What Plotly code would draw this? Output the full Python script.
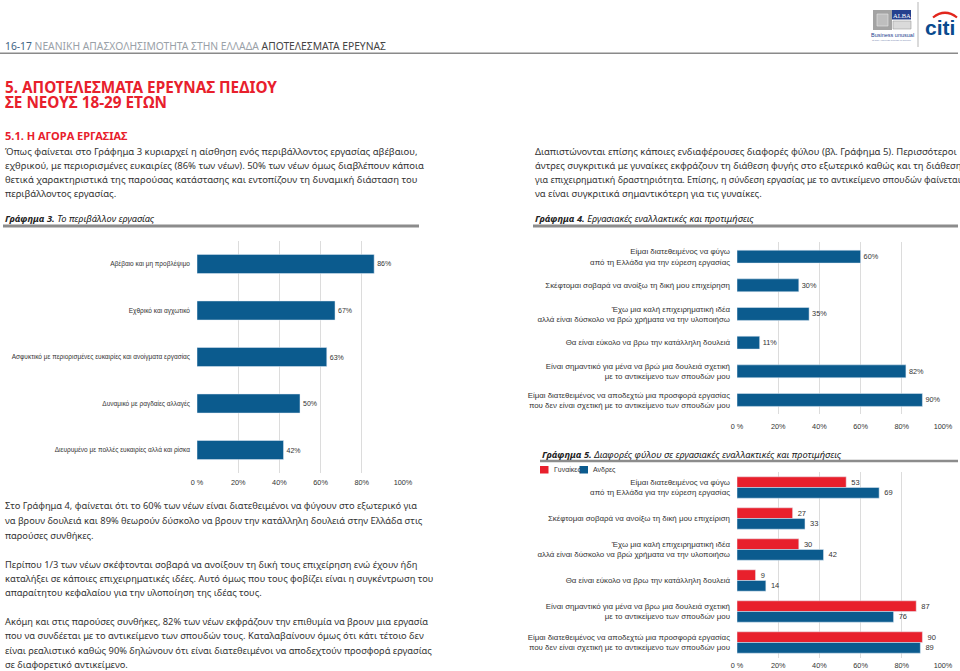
import plotly.graph_objects as go

W, H = 960, 671

# ---------------- data ----------------
g3_labels = [
    "Αβέβαιο και μη προβλέψιμο",
    "Εχθρικό και αγχωτικό",
    "Ασφυκτικό με περιορισμένες ευκαιρίες και ανοίγματα εργασίας",
    "Δυναμικό με ραγδαίες αλλαγές",
    "Διευρυμένο με πολλές ευκαιρίες αλλά και ρίσκα",
]
g3_values = [86, 67, 63, 50, 42]

g4_labels = [
    "Είμαι διατεθειμένος να φύγω<br>από τη Ελλάδα για την εύρεση εργασίας",
    "Σκέφτομαι σοβαρά να ανοίξω τη δική μου επιχείρηση",
    "Έχω μια καλή επιχειρηματική ιδέα<br>αλλά είναι δύσκολο να βρώ χρήματα να την υλοποιήσω",
    "Θα είναι εύκολο να βρω την κατάλληλη δουλειά",
    "Είναι σημαντικό για μένα να βρώ μια δουλειά σχετική<br>με το αντικείμενο των σπουδών μου",
    "Είμαι διατεθειμένος να αποδεχτώ μια προσφορά εργασίας<br>που δεν είναι σχετική με το αντικείμενο των σπουδών μου",
]
g4_values = [60, 30, 35, 11, 82, 90]

g5_labels = [
    "Είμαι διατεθειμένος να φύγω<br>από τη Ελλάδα για την εύρεση εργασίας",
    "Σκέφτομαι σοβαρά να ανοίξω τη δική μου επιχείριση",
    "Έχω μια καλή επιχειρηματική ιδέα<br>αλλά είναι δύσκολο να βρώ χρήματα να την υλοποιήσω",
    "Θα είναι εύκολο να βρω την κατάλληλη δουλειά",
    "Είναι σημαντικό για μένα να βρω μια δουλειά σχετική<br>με το αντικείμενο των σπουδών μου",
    "Είμαι διατεθειμένος να αποδεχτώ μια προσφορά εργασίας<br>που δεν είναι σχετική με το αντικείμενο των σπουδών μου",
]
g5_women = [53, 27, 30, 9, 87, 90]
g5_men = [69, 33, 42, 14, 76, 89]
g5_series = ["Γυναίκες", "Ανδρες"]

tick_vals = [0, 20, 40, 60, 80, 100]
tick_text = ["0 %", "20%", "40%", "60%", "80%", "100%"]

# ---------------- styles ----------------
BLUE = "#0B5B8E"
RED = "#E8202C"
GRID = "#DCDCDC"
NARROW = "Liberation Sans, Arial, sans-serif"
BODY = "Noto Sans, Open Sans, sans-serif"
TXT = "#333333"


def fx(px):
    return px / W


def fy(py):
    return 1 - py / H


fig = go.Figure()

fig.add_trace(go.Bar(
    x=g3_values, y=g3_labels, orientation="h", marker_color=BLUE,
    width=0.41, text=[f"{v}%" for v in g3_values], textposition="outside",
    textfont=dict(family=NARROW, size=7, color=TXT), cliponaxis=False,
    xaxis="x", yaxis="y", showlegend=False,
))
fig.add_trace(go.Bar(
    x=g4_values, y=g4_labels, orientation="h", marker_color=BLUE,
    width=0.45, text=[f"{v}%" for v in g4_values], textposition="outside",
    textfont=dict(family=NARROW, size=7.3, color=TXT), cliponaxis=False,
    xaxis="x2", yaxis="y2", showlegend=False,
))
fig.add_trace(go.Bar(
    x=g5_women, y=g5_labels, orientation="h", marker_color=RED, name=g5_series[0],
    text=[f" {v}" for v in g5_women], textposition="outside",
    textfont=dict(family=NARROW, size=7.5, color=TXT), cliponaxis=False,
    xaxis="x3", yaxis="y3", offsetgroup="w", showlegend=False,
))
fig.add_trace(go.Bar(
    x=g5_men, y=g5_labels, orientation="h", marker_color=BLUE, name=g5_series[1],
    text=[f" {v}" for v in g5_men], textposition="outside",
    textfont=dict(family=NARROW, size=7.5, color=TXT), cliponaxis=False,
    xaxis="x3", yaxis="y3", offsetgroup="m", showlegend=False,
))


def xax(dom, anchor, standoff):
    return dict(domain=dom, anchor=anchor, range=[0, 100], tickvals=tick_vals,
                ticktext=tick_text, showgrid=True, gridcolor=GRID, gridwidth=1,
                zeroline=False, showline=False, ticks="", ticklabelstandoff=standoff,
                tickfont=dict(family=NARROW, size=7.3, color=TXT), fixedrange=True,
                automargin=False)


def yax(dom, anchor, size):
    return dict(domain=dom, anchor=anchor, autorange="reversed", showgrid=False,
                zeroline=False, showline=False, ticks="",
                tickfont=dict(family=NARROW, size=size, color=TXT),
                ticklabelstandoff=6, fixedrange=True, automargin=False)


fig.update_layout(
    width=W, height=H, margin=dict(l=0, r=0, t=0, b=0, autoexpand=False),
    paper_bgcolor="white", plot_bgcolor="white",
    barmode="group", bargap=0.31, bargroupgap=0,
    xaxis=xax([fx(197), fx(403)], "y", 3),
    yaxis=yax([fy(473.3), fy(240.7)], "x", 6.5),
    xaxis2=xax([fx(737), fx(943)], "y2", 6),
    yaxis2=yax([fy(414.3), fy(242.3)], "x2", 7.9),
    xaxis3=xax([fx(737), fx(943)], "y3", 2),
    yaxis3=yax([fy(658), fy(472)], "x3", 7.9),
    showlegend=False,
)

ann = []
shapes = []


def text(px, py, s, size=10, color=TXT, family=BODY, anchor="left"):
    ann.append(dict(x=fx(px), y=fy(py), xref="paper", yref="paper", text=s,
                    showarrow=False, xanchor=anchor, yanchor="middle",
                    font=dict(family=family, size=size, color=color)))


def hline(x0, x1, py, color, width):
    shapes.append(dict(type="line", xref="paper", yref="paper", x0=fx(x0), x1=fx(x1),
                       y0=fy(py), y1=fy(py), line=dict(color=color, width=width)))


def rect(x0, y0, x1, y1, fill, line=None):
    shapes.append(dict(type="rect", xref="paper", yref="paper", x0=fx(x0), x1=fx(x1),
                       y0=fy(y1), y1=fy(y0), fillcolor=fill,
                       line=dict(width=0.6 if line else 0, color=line or fill)))


# header
text(3, 45.7, "<span style='color:#3E6384'>16-17</span> "
     "<span style='color:#9AA1A8'>ΝΕΑΝΙΚΗ ΑΠΑΣΧΟΛΗΣΙΜΟΤΗΤΑ ΣΤΗΝ ΕΛΛΑΔΑ</span> "
     "<span style='color:#444444'>ΑΠΟΤΕΛΕΣΜΑΤΑ ΕΡΕΥΝΑΣ</span>", size=10.3)
hline(0, 958, 53.3, "#8A8A8A", 1.5)

# titles
text(3, 86.8, "<b>5. ΑΠΟΤΕΛΕΣΜΑΤΑ ΕΡΕΥΝΑΣ ΠΕΔΙΟΥ</b>", size=15.3, color=RED)
text(3, 101.8, "<b>ΣΕ ΝΕΟΥΣ 18-29 ΕΤΩΝ</b>", size=15.3, color=RED)
text(3, 135, "<b>5.1. Η ΑΓΟΡΑ ΕΡΓΑΣΙΑΣ</b>", size=11, color=RED)

left_par = [
    "Όπως φαίνεται στο Γράφημα 3 κυριαρχεί η αίσθηση ενός περιβάλλοντος εργασίας αβέβαιου,",
    "εχθρικού, με περιορισμένες ευκαιρίες (86% των νέων). 50% των νέων όμως διαβλέπουν κάποια",
    "θετικά χαρακτηριστικά της παρούσας κατάστασης και εντοπίζουν τη δυναμική διάσταση του",
    "περιβάλλοντος εργασίας.",
]
right_par = [
    "Διαπιστώνονται επίσης κάποιες ενδιαφέρουσες διαφορές φύλου (βλ. Γράφημα 5). Περισσότεροι",
    "άντρες συγκριτικά με γυναίκες εκφράζουν τη διάθεση φυγής στο εξωτερικό καθώς και τη διάθεση",
    "για επιχειρηματική δραστηριότητα. Επίσης, η σύνδεση εργασίας με το αντικείμενο σπουδών φαίνεται",
    "να είναι συγκριτικά σημαντικότερη για τις γυναίκες.",
]
right_sizes = [9.5, 9.4, 9.0, 9.4]
par_y = [151.7, 165.6, 179.4, 193.3]
for s, y in zip(left_par, par_y):
    text(3, y, s, size=9.5)
for s, y, sz in zip(right_par, par_y, right_sizes):
    text(533, y, s, size=sz)

text(3, 218.3, "<b><i>Γράφημα 3.</i></b><i> Το περιβάλλον εργασίας</i>", size=9.3, color="#222222")
hline(3, 419, 226, "#8C8C8C", 3)
text(533, 218.3, "<b><i>Γράφημα 4.</i></b><i> Εργασιακές εναλλακτικές και προτιμήσεις</i>", size=9.3, color="#222222")
hline(533, 958, 226, "#8C8C8C", 3)
text(540, 454, "<b><i>Γράφημα 5.</i></b><i> Διαφορές φύλου σε εργασιακές εναλλακτικές και προτιμήσεις</i>", size=9.3, color="#222222")
hline(540, 958, 461, "#8C8C8C", 2.5)

# legend of Graph 5
rect(540, 466, 548.5, 473.5, RED)
text(551.5, 469.8, g5_series[0], size=7, family=NARROW)
rect(579.5, 466, 588, 473.5, BLUE)
text(591, 469.8, g5_series[1], size=7, family=NARROW)

bottom_par = [
    ("Στο Γράφημα 4, φαίνεται ότι το 60% των νέων είναι διατεθειμένοι να φύγουν στο εξωτερικό για", 505.7),
    ("να βρουν δουλειά και 89% θεωρούν δύσκολο να βρουν την κατάλληλη δουλειά στην Ελλάδα στις", 520.5),
    ("παρούσες συνθήκες.", 535),
    ("Περίπου 1/3 των νέων σκέφτονται σοβαρά να ανοίξουν τη δική τους επιχείρηση ενώ έχουν ήδη", 564),
    ("καταλήξει σε κάποιες επιχειρηματικές ιδέες. Αυτό όμως που τους φοβίζει είναι η συγκέντρωση του", 578.3),
    ("απαραίτητου κεφαλαίου για την υλοποίηση της ιδέας τους.", 592.7),
    ("Ακόμη και στις παρούσες συνθήκες, 82% των νέων εκφράζουν την επιθυμία να βρουν μια εργασία", 621.7),
    ("που να συνδέεται με το αντικείμενο των σπουδών τους. Καταλαβαίνουν όμως ότι κάτι τέτοιο δεν", 635.8),
    ("είναι ρεαλιστικό καθώς 90% δηλώνουν ότι είναι διατεθειμένοι να αποδεχτούν προσφορά εργασίας", 650),
    ("σε διαφορετικό αντικείμενο.", 664.3),
]
for s, y in bottom_par:
    text(3, y, s, size=9.3)

# logos
rect(873, 10, 892, 30, "#A3A3A3")
rect(877, 14, 888, 26, "#BEBEBE", "#E8E8E8")
rect(892, 10, 911, 19.5, "#24408E")
text(901.5, 15, "ALBA", size=6.5, color="white", family="Liberation Serif, serif", anchor="center")
rect(893, 21, 911, 29, "#DADADA", "#9E9E9E")
text(892, 35, "Business unusual", size=5.5, color="#24408E", family="Liberation Sans, Arial", anchor="center")
text(892, 40.5, "at The American College of Greece", size=2.5, color="#6A7BAA", family="Liberation Sans, Arial", anchor="center")
shapes.append(dict(type="line", xref="paper", yref="paper", x0=fx(918), x1=fx(918),
                   y0=fy(2), y1=fy(47), line=dict(color="#B5B5B5", width=1)))
text(940, 27, "<b>citi</b>", size=21, color="#0A4A8E", family="Liberation Sans, Arial", anchor="center")
shapes.append(dict(type="path", xref="paper", yref="paper",
                   path=f"M {fx(933)},{fy(17.5)} Q {fx(945)},{fy(8)} {fx(957)},{fy(17.5)}",
                   line=dict(color="#E1261C", width=2.2)))

fig.update_layout(annotations=ann, shapes=shapes)
fig.write_html("out.html", config={"displayModeBar": False},
               post_script="document.body.style.margin='0';document.body.style.overflow='hidden';")
